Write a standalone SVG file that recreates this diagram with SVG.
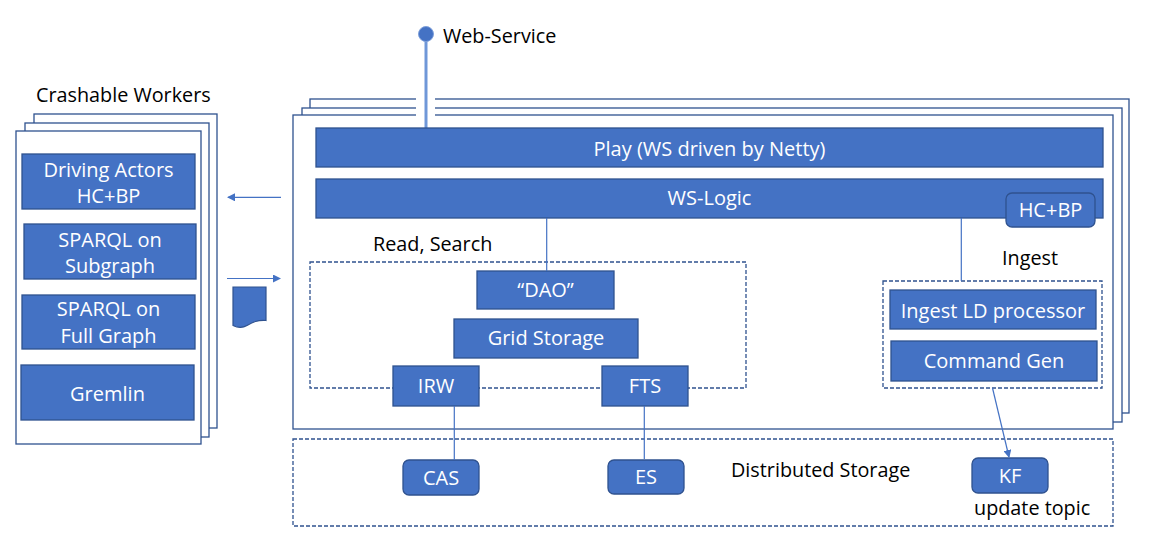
<svg xmlns="http://www.w3.org/2000/svg" width="1161" height="560" viewBox="0 0 1161 560">
<style>
  .page{fill:#fff;stroke:#2F528F;stroke-width:1.3}
  .box{fill:#4472C4;stroke:#2F528F;stroke-width:1.3}
  .dash{fill:none;stroke:#2F528F;stroke-width:1.3;stroke-dasharray:4 2}
  .wt{font-family:"Open Sans","Noto Sans",sans-serif;font-size:20px;fill:#fff;text-anchor:middle}
  .bt{font-family:"Open Sans","Noto Sans",sans-serif;font-size:19.8px;fill:#000}
  .conn{stroke:#4472C4;stroke-width:1.2;fill:none}
</style>
<defs>
  <marker id="ah" markerWidth="8" markerHeight="8" refX="7" refY="4" orient="auto" markerUnits="userSpaceOnUse">
    <path d="M0,0 L8,4 L0,8 Z" fill="#4472C4"/>
  </marker>
</defs>
<rect width="1161" height="560" fill="#fff"/>

<g id="workers">
  <rect class="page" x="34" y="114" width="183" height="314"/>
  <rect class="page" x="25" y="123" width="184" height="314"/>
  <rect class="page" x="16" y="131" width="185" height="313"/>
  <text class="bt" x="36" y="102">Crashable Workers</text>
</g>
<g id="driving-actors">
  <rect class="box" x="22" y="154" width="173" height="55"/>
  <text class="wt" x="108.5" y="177">Driving Actors</text>
  <text class="wt" x="108.5" y="203">HC+BP</text>
</g>
<g id="sparql-sub">
  <rect class="box" x="24" y="224" width="172" height="55"/>
  <text class="wt" x="110" y="247">SPARQL on</text>
  <text class="wt" x="110" y="273">Subgraph</text>
</g>
<g id="sparql-full">
  <rect class="box" x="22" y="295" width="173" height="54"/>
  <text class="wt" x="108.5" y="316">SPARQL on</text>
  <text class="wt" x="108.5" y="343">Full Graph</text>
</g>
<g id="gremlin">
  <rect class="box" x="21" y="365" width="173" height="55"/>
  <text class="wt" x="107.5" y="401">Gremlin</text>
</g>
<g id="document">
  <path d="M233,287 H266 V320.5 C257,320 253,322 247,325.5 C242,328.5 237,327.5 233,325.5 Z" fill="#4472C4" stroke="#2F528F" stroke-width="1.2"/>
</g>

<g id="web-service-stack">
  <rect class="page" x="310" y="99" width="819" height="314"/>
  <rect class="page" x="302" y="108" width="820" height="314"/>
  <rect class="page" x="293" y="115" width="820" height="314"/>
  <rect x="416" y="96" width="19" height="21" fill="#fff"/>
</g>
<g id="web-service">
  <line x1="426" y1="36" x2="426" y2="128" stroke="#6F97D8" stroke-width="3"/>
  <circle cx="426" cy="34" r="7.5" fill="#4472C4" stroke="#7FA0DA" stroke-width="1"/>
  <text class="bt" x="443" y="43">Web-Service</text>
</g>
<g id="play">
  <rect class="box" x="316" y="128" width="787" height="39"/>
  <text class="wt" x="709.5" y="156">Play (WS driven by Netty)</text>
</g>
<g id="ws-logic">
  <rect class="box" x="316" y="179" width="787" height="39"/>
  <text class="wt" x="709.5" y="205">WS-Logic</text>
</g>
<g id="hcbp">
  <rect class="box" x="1006" y="193" width="89" height="34" rx="6"/>
  <text class="wt" x="1050.5" y="217">HC+BP</text>
</g>

<g id="read-search">
  <rect class="dash" x="310" y="262" width="436" height="126"/>
  <text class="bt" x="373" y="251">Read, Search</text>
</g>
<g id="dao">
  <rect class="box" x="477" y="271" width="137" height="38"/>
  <text class="wt" x="545.5" y="297">“DAO”</text>
</g>
<g id="grid-storage">
  <rect class="box" x="454" y="319" width="184" height="39"/>
  <text class="wt" x="546" y="345">Grid Storage</text>
</g>
<g id="irw">
  <rect class="box" x="393" y="366" width="86" height="40"/>
  <text class="wt" x="436" y="393">IRW</text>
</g>
<g id="fts">
  <rect class="box" x="602" y="366" width="86" height="40"/>
  <text class="wt" x="645" y="393">FTS</text>
</g>

<g id="ingest">
  <rect class="dash" x="883" y="281" width="219" height="107"/>
  <text class="bt" x="1002" y="265">Ingest</text>
</g>
<g id="ingest-ld">
  <rect class="box" x="890" y="290" width="206" height="39"/>
  <text class="wt" x="993" y="318">Ingest LD processor</text>
</g>
<g id="command-gen">
  <rect class="box" x="891" y="341" width="206" height="40"/>
  <text class="wt" x="994" y="368">Command Gen</text>
</g>

<g id="distributed-storage">
  <rect class="dash" x="293" y="439" width="820" height="87"/>
  <text class="bt" x="731" y="477">Distributed Storage</text>
</g>
<g id="cas">
  <rect class="box" x="403" y="460" width="76" height="35" rx="6"/>
  <text class="wt" x="441" y="485">CAS</text>
</g>
<g id="es">
  <rect class="box" x="608" y="460" width="76" height="34" rx="6"/>
  <text class="wt" x="646" y="484">ES</text>
</g>
<g id="kf">
  <rect class="box" x="972" y="458" width="76" height="35" rx="6"/>
  <text class="wt" x="1010" y="483">KF</text>
  <text class="bt" x="974" y="515">update topic</text>
</g>

<g id="connectors">
  <line class="conn" x1="281" y1="197.3" x2="228" y2="197.3" marker-end="url(#ah)"/>
  <line class="conn" x1="227" y1="278.5" x2="280" y2="278.5" marker-end="url(#ah)"/>
  <line class="conn" x1="546.7" y1="218" x2="546.7" y2="271"/>
  <line class="conn" x1="961.3" y1="218" x2="961.3" y2="281"/>
  <line class="conn" x1="454.3" y1="406" x2="454.3" y2="460"/>
  <line class="conn" x1="644.3" y1="406" x2="644.3" y2="459"/>
  <line class="conn" x1="992.5" y1="388" x2="1009" y2="457" marker-end="url(#ah)"/>
</g>
</svg>
